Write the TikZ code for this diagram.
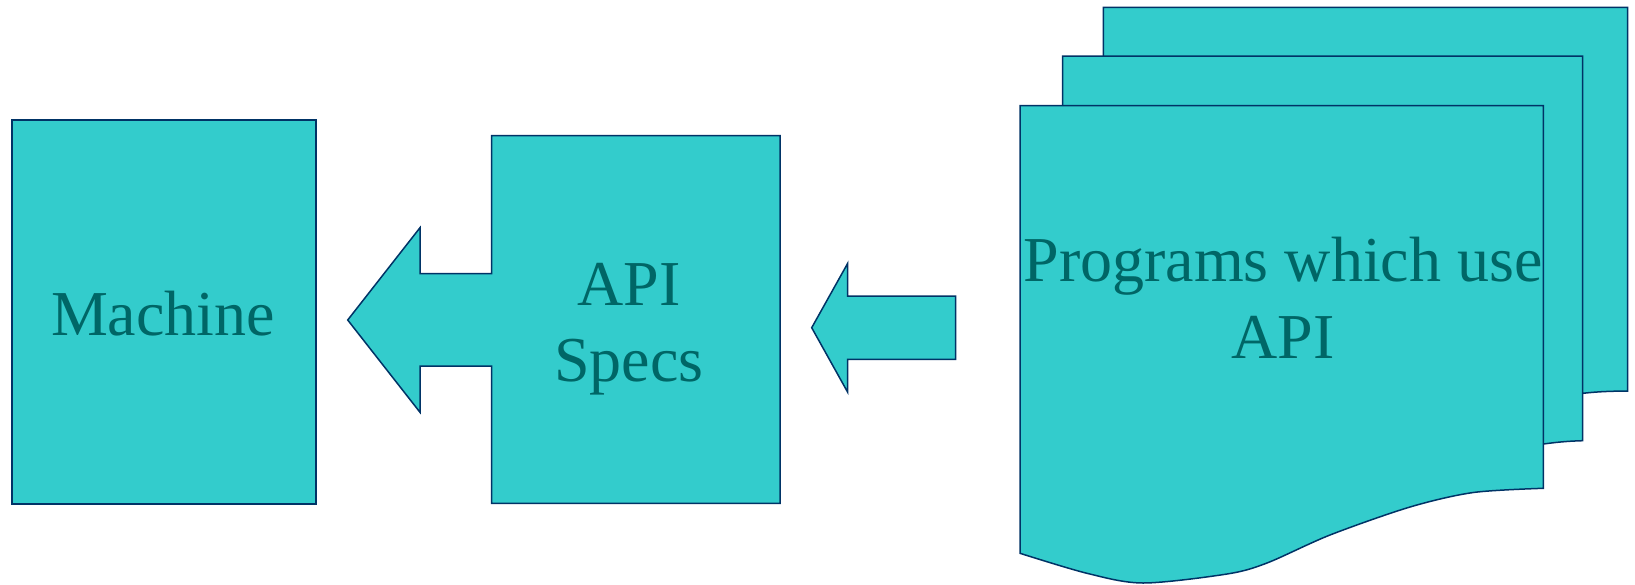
\documentclass[tikz,border=0pt]{standalone}
\usepackage{fontspec}
\setmainfont{Liberation Serif}
\definecolor{panelfill}{HTML}{33CCCC}
\definecolor{panelline}{HTML}{003366}
\definecolor{captioncol}{HTML}{006666}

\begin{document}
\begin{tikzpicture}[x=1pt,y=-1pt,
  panel/.style={fill=panelfill, draw=panelline, line width=1.5pt, line join=miter},
  caption/.style={text=captioncol, font=\fontsize{64}{77}\selectfont, anchor=base, inner sep=0pt}]
  \useasboundingbox (0,0) rectangle (1635,584);

  % Machine
  \draw[panel] (12,120) rectangle (316,504);
  \node[caption] (machine) at (163,335) {Machine};

  % API specification block with its outgoing arrow
  \draw[panel] (491.7,135.7) -- (780,135.7) -- (780,503.3) -- (491.7,503.3)
    -- (491.7,366) -- (420,366) -- (420,412.3) -- (347.7,320) -- (420,227.7)
    -- (420,273.7) -- (491.7,273.7) -- cycle;
  \node[caption] (specsA) at (629,305) {API};
  \node[caption] (specsB) at (629,381.7) {Specs};

  % arrow from the programs to the specs
  \draw[panel] (955.7,296) -- (847.7,296) -- (847.7,263.3) -- (811.7,327.7)
    -- (847.7,392.3) -- (847.7,359.3) -- (955.7,359.3) -- cycle;

  % stack of program documents, back to front
  \draw[panel] (1103.3,7.3) -- (1627.7,7.3) -- (1627.7,391)
    .. controls (1605,391.2) and (1595,392) .. (1582.7,393.3)
    -- (1103.3,393.3) -- cycle;
  \draw[panel] (1062.7,56) -- (1582.7,56) -- (1582.7,440.7)
    .. controls (1565,441.2) and (1555,442.5) .. (1543.3,444)
    -- (1062.7,444) -- cycle;
  \draw[panel] (1020,105.7) -- (1543.3,105.7)
    -- plot[smooth, tension=0.5] coordinates {(1543.3,488.3) (1473.3,492.5)
      (1410,507) (1330,535) (1267,563) (1227,574) (1143,583) (1087,573.3)
      (1020,553.3)} -- cycle;
  \node[caption] (progA) at (1283,281.7) {Programs which use};
  \node[caption] (progB) at (1283,358.3) {API};
\end{tikzpicture}
\end{document}
